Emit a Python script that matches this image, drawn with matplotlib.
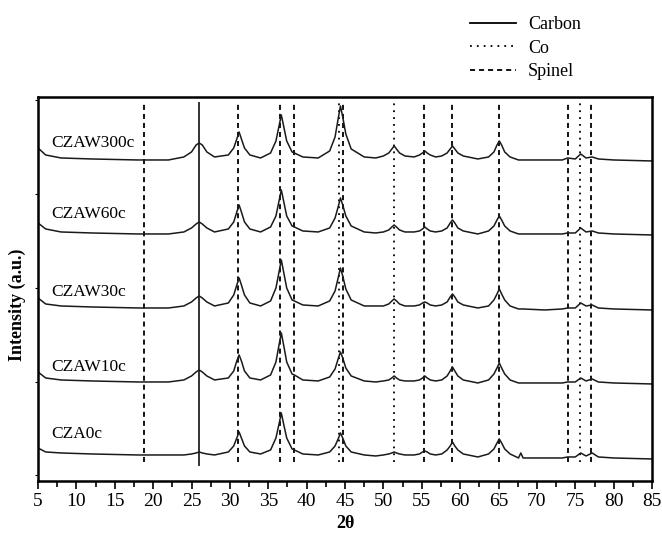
import matplotlib
matplotlib.use('Agg')
from matplotlib import pyplot as plt
from matplotlib.lines import Line2D
from matplotlib.ticker import MultipleLocator

plt.rcParams['font.family'] = ['Liberation Serif', 'DejaVu Serif']

# 2theta sample positions
two_theta = [5, 6, 8, 12, 18, 22,
             24, 25, 25.6, 26, 26.4, 27, 28,
             29.8, 30.5, 30.9, 31.2, 31.5, 31.9, 32.6,
             34,
             35.3, 36.0, 36.4, 36.7, 37.0, 37.4, 38.1,
             38.4, 39.5, 41.5,
             43.0, 43.7, 44.1, 44.4, 44.7, 45.1, 45.8,
             47.5, 49,
             50.0, 50.7, 51.1, 51.4, 51.7, 52.1, 52.8,
             54.0, 54.7, 55.1, 55.4, 55.7, 56.1, 56.8,
             57.6, 58.3, 58.7, 59.0, 59.3, 59.7, 60.4,
             62.3,
             63.7, 64.4, 64.8, 65.1, 65.4, 65.8, 66.5,
             67.6, 67.9, 68.2,
             71, 73.3,
             74.0, 75.0, 75.7, 76.4, 77.2, 78.0,
             80, 85]

# intensities (a.u., already stacked with offsets)
czaw300c = [333, 326, 323, 322, 321, 321,
            324, 329, 336, 338, 336, 329, 324,
            326, 333, 342, 349, 342, 333, 326,
            323,
            328, 340, 355, 366, 355, 340, 329,
            328, 324, 323,
            330, 344, 362, 375, 364, 347, 332,
            324, 323,
            325, 328, 332, 335, 332, 328, 325,
            324, 326, 328, 330, 328, 326, 324,
            325, 328, 332, 335, 332, 328, 325,
            322,
            324, 329, 336, 340, 336, 329, 324,
            321, 321, 321,
            321, 321,
            323, 322, 327, 323, 324, 322,
            321, 320]
czaw60c = [258, 252, 249, 248, 247, 247,
           249, 253, 257, 259, 257, 253, 249,
           252, 259, 269, 276, 269, 259, 252,
           249,
           254, 265, 280, 291, 280, 265, 255,
           254, 250, 249,
           253, 263, 274, 283, 276, 265, 255,
           249, 248,
           249, 251, 254, 256, 254, 251, 249,
           249, 250, 252, 254, 252, 250, 249,
           250, 253, 258, 261, 258, 253, 250,
           247,
           250, 255, 261, 265, 261, 255, 250,
           247, 247, 247,
           247, 247,
           248, 248, 253, 249, 250, 248,
           247, 246]
czaw30c = [183, 177, 175, 174, 173, 173,
           175, 179, 183, 185, 183, 179, 175,
           178, 186, 196, 203, 196, 186, 178,
           175,
           180, 193, 209, 221, 209, 193, 181,
           180, 176, 175,
           180, 190, 203, 213, 205, 192, 181,
           175, 175,
           175, 177, 180, 182, 180, 177, 175,
           175, 176, 178, 179, 178, 176, 175,
           176, 179, 184, 187, 184, 179, 176,
           173,
           175, 181, 187, 192, 187, 181, 175,
           172, 172, 172,
           171, 172,
           173, 173, 178, 175, 176, 173,
           172, 171]
czaw10c = [109, 103, 101, 100, 99, 99,
           101, 105, 109, 111, 109, 105, 101,
           103, 110, 120, 126, 120, 110, 103,
           101,
           106, 119, 136, 148, 136, 119, 107,
           106, 101, 100,
           104, 112, 122, 129, 123, 113, 105,
           100, 99,
           100, 101, 103, 105, 103, 101, 100,
           100, 101, 103, 105, 103, 101, 100,
           101, 105, 110, 114, 110, 105, 101,
           98,
           101, 107, 113, 118, 113, 107, 101,
           98, 98, 98,
           98, 98,
           99, 99, 103, 100, 102, 99,
           98, 97]
cza0c = [33, 29, 28, 27, 26, 26,
         26, 27, 28, 29, 28, 27, 26,
         29, 35, 43, 49, 43, 35, 29,
         27,
         31, 43, 57, 68, 57, 43, 32,
         31, 27, 26,
         29, 35, 42, 48, 43, 35, 29,
         26, 25,
         26, 27, 28, 29, 28, 27, 26,
         26, 27, 29, 30, 29, 27, 26,
         27, 31, 35, 39, 35, 31, 27,
         24,
         27, 32, 38, 42, 38, 32, 27,
         23, 28, 23,
         23, 23,
         24, 24, 28, 25, 28, 24,
         23, 22]

samples = ['CZAW300c', 'CZAW60c', 'CZAW30c', 'CZAW10c', 'CZA0c']
traces = [czaw300c, czaw60c, czaw30c, czaw10c, cza0c]
label_y = [334, 263, 185, 110, 43]

# reference phase positions
carbon_pos = [26.0]
co_pos = [44.2, 51.4, 75.6]
spinel_pos = [18.8, 31.1, 36.5, 38.3, 44.7, 55.3, 58.9, 65.0, 74.0, 77.1]

fig = plt.figure(figsize=(6.62, 5.34), dpi=100)
ax = fig.add_axes([0.0574, 0.0993, 0.9276, 0.7191])

dash_style = (0, (2.8, 2.2))
dot_style = (0, (1.0, 2.8))

for x in carbon_pos:
    ax.plot([x, x], [16, 378], color='#333333', lw=1.4, linestyle='-')
for x in co_pos:
    ax.plot([x, x], [19, 378], color='black', lw=1.3, linestyle=dot_style)
for x in spinel_pos:
    ax.plot([x, x], [19, 378], color='black', lw=1.3, linestyle=dash_style)

for name, y, ly in zip(samples, traces, label_y):
    ax.plot(two_theta, y, color='#1a1a1a', lw=1.1)
    ax.text(6.7, ly, name, fontsize=12.5, ha='left', va='baseline')

ax.set_xlim(5, 85)
ax.set_ylim(0, 384)
ax.xaxis.set_major_locator(MultipleLocator(5))
ax.xaxis.set_minor_locator(MultipleLocator(2.5))
ax.set_yticks([6, 99, 193, 287, 381])
ax.set_yticklabels([])
ax.tick_params(axis='x', which='major', direction='out', length=6, width=1.2,
               labelsize=14, pad=3)
ax.tick_params(axis='x', which='minor', direction='out', length=4, width=1.2)
ax.tick_params(axis='y', direction='out', length=2, width=0.8)
for sp in ax.spines.values():
    sp.set_linewidth(1.8)

ax.set_xlabel('2θ', fontsize=13, fontweight='bold', labelpad=3)
ax.set_ylabel('Intensity (a.u.)', fontsize=13, fontweight='bold')
ax.yaxis.set_label_coords(-0.02, 0.458)

handles = [Line2D([], [], color='black', lw=1.3, linestyle='-'),
           Line2D([], [], color='black', lw=1.3, linestyle=dot_style),
           Line2D([], [], color='black', lw=1.3, linestyle=dash_style)]
fig.legend(handles, ['Carbon', 'Co', 'Spinel'], loc='upper left',
           bbox_to_anchor=(0.686, 1.0), frameon=False, fontsize=13,
           handlelength=2.5, handletextpad=0.7, labelspacing=0.35)

fig.savefig('out.png', dpi=100)
